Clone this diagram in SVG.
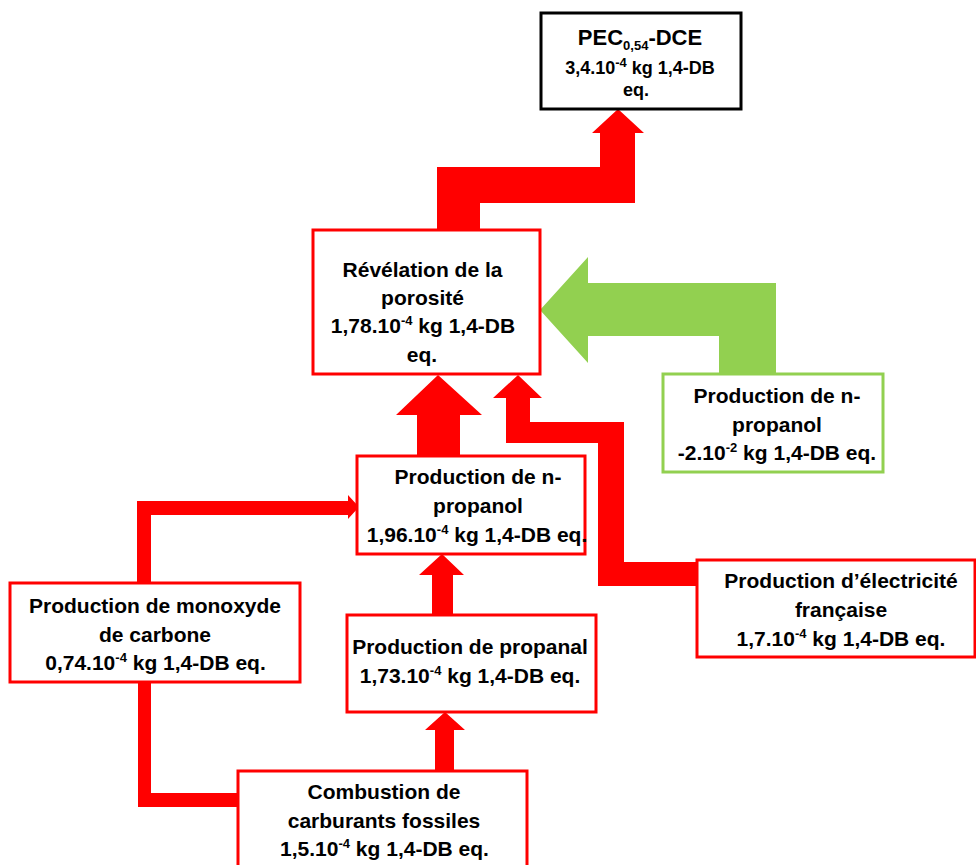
<svg xmlns="http://www.w3.org/2000/svg" width="976" height="865" viewBox="0 0 976 865">
<style>
.box{fill:#fff;stroke-width:3}
.red{stroke:#ff0000}
.grn{stroke:#92d050}
.blk{stroke:#000}
.t{font-family:"Liberation Sans",Arial,sans-serif;font-weight:bold;font-size:21px;fill:#000;text-anchor:middle}
.s{font-size:18px}
.big{font-size:22px}
.sup{font-size:13px}
.arR{fill:#ff0000}
.arG{fill:#92d050}
</style>
<rect width="976" height="865" fill="#fff"/>
<g id="connectors">
<polygon class="arR" points="437,230 437,167 600,167 600,133 592,133 618,109 644,133 635,133 635,203 480,203 480,230"/>
<polygon class="arG" points="540,310 588,257 588,283 776,283 776,375 719,375 719,336 588,336 588,363"/>
<polygon class="arR" points="417,456 417,415 396,415 438,375 482,415 460,415 460,456"/>
<polygon class="arR" points="506,443 506,398 493,398 518,375 542,398 530,398 530,422 624,422 624,562 697,562 697,586 598,586 598,443"/>
<polygon class="arR" points="432,615 432,575 419,575 442,554 464,575 453,575 453,615"/>
<polygon class="arR" points="435,771 435,730 425,730 445,712 465,730 454,730 454,771"/>
<polygon class="arR" points="137,583 137,501 348,501 348,495 359,507 348,519 348,515 151,515 151,583"/>
<polygon class="arR" points="138,682 151,682 151,793 238,793 238,807 138,807"/>
</g>
<g id="pec">
<rect class="box blk" x="541" y="13" width="200" height="96"/>
<text class="t big" x="640" y="45">PEC<tspan class="sup" font-size="14" dy="5">0,54</tspan><tspan dy="-5">-DCE</tspan></text>
<text class="t s" x="640" y="74">3,4.10<tspan class="sup" font-size="12" dy="-7">-4</tspan><tspan dy="7"> kg 1,4-DB</tspan></text>
<text class="t s" x="636" y="96">eq.</text>
</g>
<g id="revelation">
<rect class="box red" x="313" y="230" width="227" height="144"/>
<text class="t" x="422.5" y="277">Révélation de la</text>
<text class="t" x="422.5" y="305">porosité</text>
<text class="t" x="423" y="333">1,78.10<tspan class="sup" dy="-8">-4</tspan><tspan dy="8"> kg 1,4-DB</tspan></text>
<text class="t" x="422" y="362">eq.</text>
</g>
<g id="npropanol-green">
<rect class="box grn" x="663" y="374" width="220" height="98"/>
<text class="t" x="777" y="403">Production de n-</text>
<text class="t" x="777" y="432">propanol</text>
<text class="t" x="777" y="460">-2.10<tspan class="sup" dy="-8">-2</tspan><tspan dy="8"> kg 1,4-DB eq.</tspan></text>
</g>
<g id="npropanol">
<rect class="box red" x="357" y="456" width="228" height="98"/>
<text class="t" x="478" y="484">Production de n-</text>
<text class="t" x="478" y="513">propanol</text>
<text class="t" x="477" y="542">1,96.10<tspan class="sup" dy="-8">-4</tspan><tspan dy="8"> kg 1,4-DB eq.</tspan></text>
</g>
<g id="electricite">
<rect class="box red" x="697" y="560" width="278" height="97"/>
<text class="t" x="841" y="588">Production d’électricité</text>
<text class="t" x="841" y="617">française</text>
<text class="t" x="841" y="646">1,7.10<tspan class="sup" dy="-8">-4</tspan><tspan dy="8"> kg 1,4-DB eq.</tspan></text>
</g>
<g id="monoxyde">
<rect class="box red" x="10" y="583" width="290" height="99"/>
<text class="t" x="155" y="613">Production de monoxyde</text>
<text class="t" x="155" y="642">de carbone</text>
<text class="t" x="155.5" y="670">0,74.10<tspan class="sup" dy="-8">-4</tspan><tspan dy="8"> kg 1,4-DB eq.</tspan></text>
</g>
<g id="propanal">
<rect class="box red" x="347" y="615" width="249" height="97"/>
<text class="t" x="470" y="654">Production de propanal</text>
<text class="t" x="470" y="683">1,73.10<tspan class="sup" dy="-8">-4</tspan><tspan dy="8"> kg 1,4-DB eq.</tspan></text>
</g>
<g id="combustion">
<rect class="box red" x="238" y="771" width="289" height="100"/>
<text class="t" x="384" y="799">Combustion de</text>
<text class="t" x="384" y="828">carburants fossiles</text>
<text class="t" x="384.5" y="856">1,5.10<tspan class="sup" dy="-8">-4</tspan><tspan dy="8"> kg 1,4-DB eq.</tspan></text>
</g>
</svg>
